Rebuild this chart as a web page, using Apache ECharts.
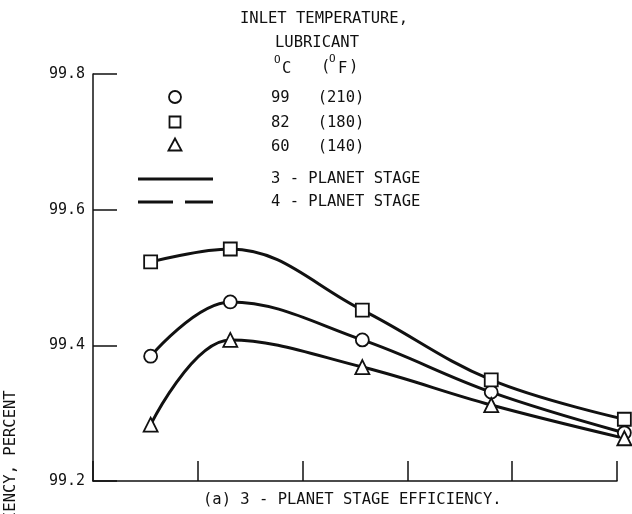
<!DOCTYPE html>
<html>
<head>
<meta charset="utf-8">
<script src="https://cdn.jsdelivr.net/npm/echarts@6/dist/echarts.min.js"></script>
<style>
  html, body { margin: 0; padding: 0; background: #fff; }
  #chart { width: 632px; height: 514px; }
</style>
</head>
<body>
<div id="chart"></div>
<script>
// 数据
const xPoints = [0.55, 1.31, 2.57, 3.8, 5.07];
const temp99 = [99.384, 99.464, 99.408, 99.331, 99.271]; // 圆
const temp82 = [99.523, 99.542, 99.452, 99.349, 99.291]; // 方块
const temp60 = [99.283, 99.408, 99.368, 99.312, 99.263]; // 三角
const yTicks = [99.2, 99.4, 99.6, 99.8];

const FONT = "'DejaVu Sans Mono', 'Liberation Mono', monospace";
const INK = "#111";

const chart = echarts.init(document.getElementById("chart"));

const pairs = (ys) => xPoints.map((x, i) => [x, ys[i]]);

const lineSeries = (name, ys, symbol) => ({
  name: name,
  type: "line",
  data: pairs(ys),
  smooth: 0.38,
  clip: false,
  symbol: symbol,
  symbolSize: symbol === "triangle" ? 14 : 13,
  showAllSymbol: true,
  lineStyle: { color: INK, width: 3 },
  itemStyle: { color: "#fff", borderColor: INK, borderWidth: 1.8 },
  z: 3,
});

// 文字小工具
const txt = (text, x, y, size, extra) => ({
  type: "text",
  x: x,
  y: y,
  style: Object.assign({
    text: text,
    fill: INK,
    font: (size || 15.5) + "px " + FONT,
    textAlign: "left",
    textVerticalAlign: "middle",
  }, extra || {}),
});

const options = {
  animation: false,
  backgroundColor: "#fff",
  grid: { left: 93, right: 15, top: 74, bottom: 33, outerBoundsMode: "none" },
  xAxis: {
    type: "value",
    min: 0,
    max: 5,
    interval: 1,
    axisLine: { show: true, lineStyle: { color: INK, width: 1.5 } },
    axisTick: { show: true, inside: true, length: 20, lineStyle: { color: INK, width: 1.5 } },
    axisLabel: { show: false },
    splitLine: { show: false },
  },
  yAxis: {
    type: "value",
    min: yTicks[0],
    max: yTicks[yTicks.length - 1],
    interval: 0.2,
    axisLine: { show: true, lineStyle: { color: INK, width: 1.5 } },
    axisTick: { show: true, inside: true, length: 24, lineStyle: { color: INK, width: 1.5 } },
    axisLabel: {
      color: INK,
      fontFamily: FONT,
      fontSize: 15,
      margin: 8,
      formatter: (v) => v.toFixed(1),
    },
    splitLine: { show: false },
  },
  series: [
    lineSeries("99 (210)", temp99, "circle"),
    lineSeries("82 (180)", temp82, "rect"),
    lineSeries("60 (140)", temp60, "triangle"),
  ],
  graphic: [
    // 标题
    txt("INLET TEMPERATURE,", 240, 19),
    txt("LUBRICANT", 275, 43),
    txt("O", 274, 60, 11),
    txt("C", 282, 69),
    txt("(", 321, 67),
    txt("O", 329, 59, 11),
    txt("F", 338, 69),
    txt(")", 349, 67),
    // 图例符号
    { type: "circle", shape: { cx: 175, cy: 97, r: 6 }, style: { fill: "#fff", stroke: INK, lineWidth: 1.8 } },
    { type: "rect", shape: { x: 169.5, y: 116.5, width: 11, height: 11 }, style: { fill: "#fff", stroke: INK, lineWidth: 1.8 } },
    { type: "polygon", shape: { points: [[168.5, 150.5], [175, 138.5], [181.5, 150.5]] }, style: { fill: "#fff", stroke: INK, lineWidth: 1.8 } },
    txt("99   (210)", 271, 98),
    txt("82   (180)", 271, 123),
    txt("60   (140)", 271, 147),
    // 线型图例
    { type: "line", shape: { x1: 138, y1: 179, x2: 213, y2: 179 }, style: { stroke: INK, lineWidth: 3 } },
    { type: "line", shape: { x1: 138, y1: 202, x2: 173, y2: 202 }, style: { stroke: INK, lineWidth: 3 } },
    { type: "line", shape: { x1: 185, y1: 202, x2: 213, y2: 202 }, style: { stroke: INK, lineWidth: 3 } },
    txt("3 - PLANET STAGE", 271, 179),
    txt("4 - PLANET STAGE", 271, 202),
    // 副标题
    txt("(a) 3 - PLANET STAGE EFFICIENCY.", 203, 500),
    // Y轴名称（被裁掉一部分）
    {
      type: "text",
      x: 11,
      y: 479,
      rotation: Math.PI / 2,
      style: {
        text: "EFFICIENCY, PERCENT",
        fill: INK,
        font: "15.5px " + FONT,
        textAlign: "center",
        textVerticalAlign: "middle",
      },
    },
  ],
};

chart.setOption(options);
</script>
</body>
</html>
